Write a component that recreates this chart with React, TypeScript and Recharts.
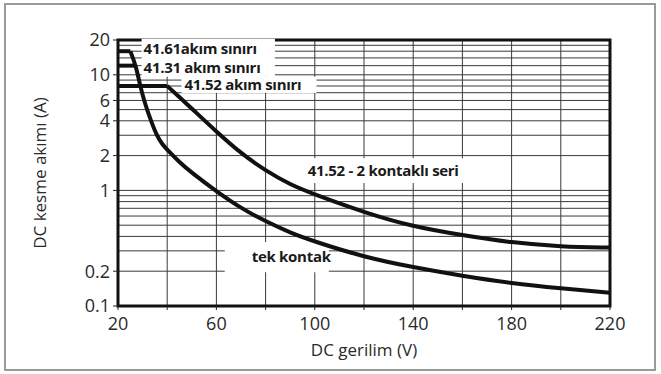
import { LineChart, Line, XAxis, YAxis, CartesianGrid, ReferenceArea } from 'recharts';

const xTicks = [20, 60, 100, 140, 180, 220];
const yTicks = [0.1, 0.2, 1, 2, 4, 6, 10, 20];
const xGrid = [20, 40, 60, 80, 100, 120, 140, 160, 180, 200, 220];
const yGrid = [0.2, 0.3, 0.4, 0.5, 0.6, 0.7, 0.8, 0.9, 1, 2, 3, 4, 5, 6, 7, 8, 9, 10, 12, 14, 16, 18];

// tek kontak
const tekVolt = [25, 27.3, 29, 31, 33.4, 35.7, 38, 40, 45, 50, 60, 70, 80, 90, 100, 120, 140, 160, 180, 200, 220];
const tekAmp = [16, 12, 8, 5.6, 4, 3, 2.5, 2.25, 1.75, 1.42, 0.98, 0.7, 0.54, 0.43, 0.36, 0.265, 0.216, 0.182, 0.157, 0.142, 0.13];

// 41.52 - 2 kontaklı seri
const seriVolt = [40, 47, 50, 60, 70, 80, 90, 100, 120, 140, 160, 180, 200, 220];
const seriAmp = [8, 5.85, 5.1, 3.22, 2.09, 1.48, 1.12, 0.92, 0.646, 0.485, 0.41, 0.353, 0.326, 0.32];

// akım sınırı
const limitVolt = [20, 25, 27.3, 40];
const limit61 = [16, 16];
const limit31 = [12, 12];
const limit52 = [8, 8];

const toRows = (xs: number[], ys: number[]) => ys.map((a, i) => ({ v: xs[i], a }));

const tekData = toRows(tekVolt, tekAmp);
const seriData = toRows(seriVolt, seriAmp);
const lim61Data = toRows([limitVolt[0], limitVolt[1]], limit61);
const lim31Data = toRows([limitVolt[0], limitVolt[2]], limit31);
const lim52Data = toRows([limitVolt[0], limitVolt[3]], limit52);

const FONT = '"Open Sans", sans-serif';
const tickStyle = { fill: '#2a2a2a', fontSize: 18, fontFamily: FONT };

function boxLabel(text: string, dx: number) {
  return (props: any) => {
    const vb = props.viewBox;
    return (
      <text
        x={vb.x + dx}
        y={vb.y + vb.height / 2}
        dy="0.35em"
        fill="#1a1a1a"
        fontSize={15}
        fontWeight={700}
        fontFamily={FONT}
        letterSpacing={-0.3}
      >
        {text}
      </text>
    );
  };
}

export default function App() {
  return (
    <div style={{ position: 'absolute', left: 0, top: 0, width: 661, height: 374, background: '#fff' }}>
      <div
        style={{
          position: 'absolute',
          left: 4,
          top: 3,
          width: 652,
          height: 368,
          border: '2px solid #9a9a9a',
          boxSizing: 'border-box',
        }}
      />
      <div style={{ position: 'absolute', left: 0, top: 0 }}>
        <LineChart width={661} height={374} margin={{ top: 40, right: 51, bottom: 18, left: 20 }}>
          <CartesianGrid horizontal={false} stroke="#3a3a3a" strokeWidth={1} />
          <CartesianGrid xAxisId="g" yAxisId="g" vertical={false} stroke="#3a3a3a" strokeWidth={1} />
          <XAxis xAxisId="g" type="number" domain={[20, 220]} allowDataOverflow hide />
          <YAxis yAxisId="g" type="number" scale="log" domain={[0.1, 20]} ticks={yGrid} interval={0} allowDataOverflow hide />
          <XAxis
            type="number"
            dataKey="v"
            domain={[20, 220]}
            ticks={xGrid}
            interval={0}
            tickFormatter={(v: number) => (xTicks.includes(v) ? String(v) : '')}
            allowDataOverflow
            axisLine={false}
            tickSize={4}
            tickMargin={7}
            height={50}
            tickLine={{ stroke: '#222' }}
            tick={tickStyle}
            label={{
              content: (p: any) => (
                <text
                  x={p.viewBox.x + p.viewBox.width / 2}
                  y={p.viewBox.y + 50}
                  textAnchor="middle"
                  fill="#2a2a2a"
                  fontSize={17}
                  fontFamily={FONT}
                >
                  DC gerilim (V)
                </text>
              ),
            }}
          />
          <YAxis
            type="number"
            scale="log"
            domain={[0.1, 20]}
            ticks={yTicks}
            interval={0}
            allowDataOverflow
            axisLine={false}
            width={98}
            tickSize={5}
            tickMargin={3}
            tickLine={{ stroke: '#222' }}
            tick={tickStyle}
            label={{
              content: (p: any) => {
                const cx = 40;
                const cy = p.viewBox.y + p.viewBox.height / 2;
                return (
                  <text
                    x={cx}
                    y={cy}
                    dy="0.35em"
                    textAnchor="middle"
                    transform={`rotate(-90 ${cx} ${cy})`}
                    fill="#2a2a2a"
                    fontSize={17}
                    fontFamily={FONT}
                  >
                    DC kesme akımı (A)
                  </text>
                );
              },
            }}
          />
          <ReferenceArea x1={20} x2={220} y1={0.1} y2={20} fill="none" stroke="#111" strokeWidth={3} />
          <ReferenceArea x1={29.6} x2={83.8} y1={13.7} y2={20.5} fill="#fff" fillOpacity={1} stroke="none" ifOverflow="visible" label={{ content: boxLabel('41.61akım sınırı', 2) }} />
          <ReferenceArea x1={29.6} x2={83.8} y1={9.6} y2={13.7} fill="#fff" fillOpacity={1} stroke="none" label={{ content: boxLabel('41.31 akım sınırı', 2) }} />
          <ReferenceArea x1={45.8} x2={100.7} y1={6.96} y2={9.6} fill="#fff" fillOpacity={1} stroke="none" label={{ content: boxLabel('41.52 akım sınırı', 3) }} />
          <ReferenceArea x1={93.9} x2={163} y1={1.16} y2={1.9} fill="#fff" fillOpacity={1} stroke="none" label={{ content: boxLabel('41.52 - 2 kontaklı seri', 8) }} />
          <ReferenceArea x1={63.4} x2={105.7} y1={0.196} y2={0.358} fill="#fff" fillOpacity={1} stroke="none" label={{ content: boxLabel('tek kontak', 27) }} />
          <Line data={lim61Data} dataKey="a" type="linear" stroke="#111" strokeWidth={4} dot={false} isAnimationActive={false} />
          <Line data={lim31Data} dataKey="a" type="linear" stroke="#111" strokeWidth={4} dot={false} isAnimationActive={false} />
          <Line data={lim52Data} dataKey="a" type="linear" stroke="#111" strokeWidth={4} dot={false} isAnimationActive={false} />
          <Line data={tekData} dataKey="a" type="basis" stroke="#111" strokeWidth={4} dot={false} isAnimationActive={false} />
          <Line data={seriData} dataKey="a" type="basis" stroke="#111" strokeWidth={4} dot={false} isAnimationActive={false} />
        </LineChart>
      </div>
    </div>
  );
}
